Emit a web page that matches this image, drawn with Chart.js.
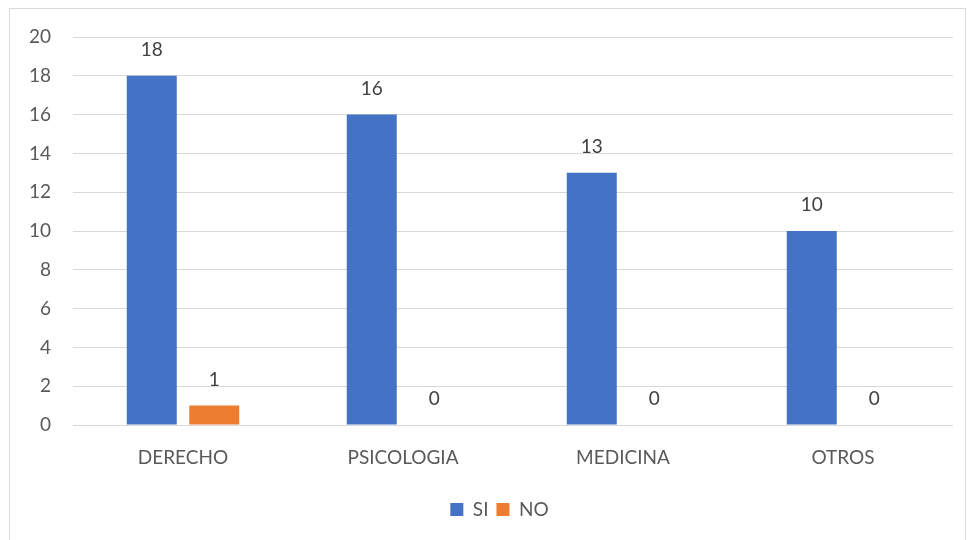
<!DOCTYPE html>
<html>
<head>
<meta charset="utf-8">
<script src="https://cdn.jsdelivr.net/npm/chart.js@4"></script>
<style>
  body { margin: 0; background: #fff; }
  #frame { position: absolute; left: 9px; top: 8px; width: 957px; height: 540px; border: 1px solid #d9d9d9; box-sizing: border-box; }
  #wrap { position: absolute; left: 0; top: 0; width: 972px; height: 540px; }
</style>
</head>
<body>
<div id="frame"></div>
<div id="wrap"><canvas id="chart"></canvas></div>
<script>
const categories = ["DERECHO", "PSICOLOGIA", "MEDICINA", "OTROS"];
const siValues = [18, 16, 13, 10];
const noValues = [1, 0, 0, 0];
const yTicks = [0, 2, 4, 6, 8, 10, 12, 14, 16, 18, 20];

const FONT = "Lato";

// draws the value above each bar
const valueLabels = {
  id: "valueLabels",
  afterDatasetsDraw(chart) {
    const ctx = chart.ctx;
    ctx.save();
    ctx.font = "19px " + FONT;
    ctx.fillStyle = "#404040";
    ctx.textAlign = "center";
    ctx.textBaseline = "middle";
    chart.data.datasets.forEach((ds, i) => {
      chart.getDatasetMeta(i).data.forEach((bar, j) => {
        ctx.fillText(ds.data[j], bar.x, bar.y - 26);
      });
    });
    ctx.restore();
  }
};

// nudge legend a bit right like the original
const legendShift = {
  id: "legendShift",
  afterLayout(chart) {
    chart.legend.left += 23;
    chart.legend.right += 23;
  }
};

const ctx = document.getElementById("chart").getContext("2d");
new Chart(ctx, {
  type: "bar",
  data: {
    labels: categories,
    datasets: [
      { label: "SI", data: siValues, backgroundColor: "#4472C4" },
      { label: "NO", data: noValues, backgroundColor: "#ED7D31" }
    ]
  },
  options: {
    responsive: true,
    maintainAspectRatio: false,
    animation: false,
    categoryPercentage: 0.568,
    barPercentage: 0.8,
    layout: { padding: { top: 37, right: 19, left: 0, bottom: 11 } },
    scales: {
      x: {
        afterFit: (s) => { s.height = 67; },
        grid: { display: false },
        border: { display: false },
        ticks: { color: "#595959", font: { family: FONT, size: 19 }, padding: 13 }
      },
      y: {
        min: 0,
        max: 20,
        afterBuildTicks: (s) => { s.ticks = yTicks.map(v => ({ value: v })); },
        afterFit: (s) => { s.width = 73; },
        grid: { color: "#d9d9d9", drawTicks: false },
        border: { display: false },
        ticks: { color: "#595959", font: { family: FONT, size: 19 }, padding: 22 }
      }
    },
    plugins: {
      legend: {
        position: "bottom",
        labels: { boxWidth: 13, boxHeight: 13, color: "#595959", font: { family: FONT, size: 19 }, padding: 8 }
      },
      tooltip: { enabled: false }
    }
  },
  plugins: [valueLabels, legendShift]
});
</script>
</body>
</html>
